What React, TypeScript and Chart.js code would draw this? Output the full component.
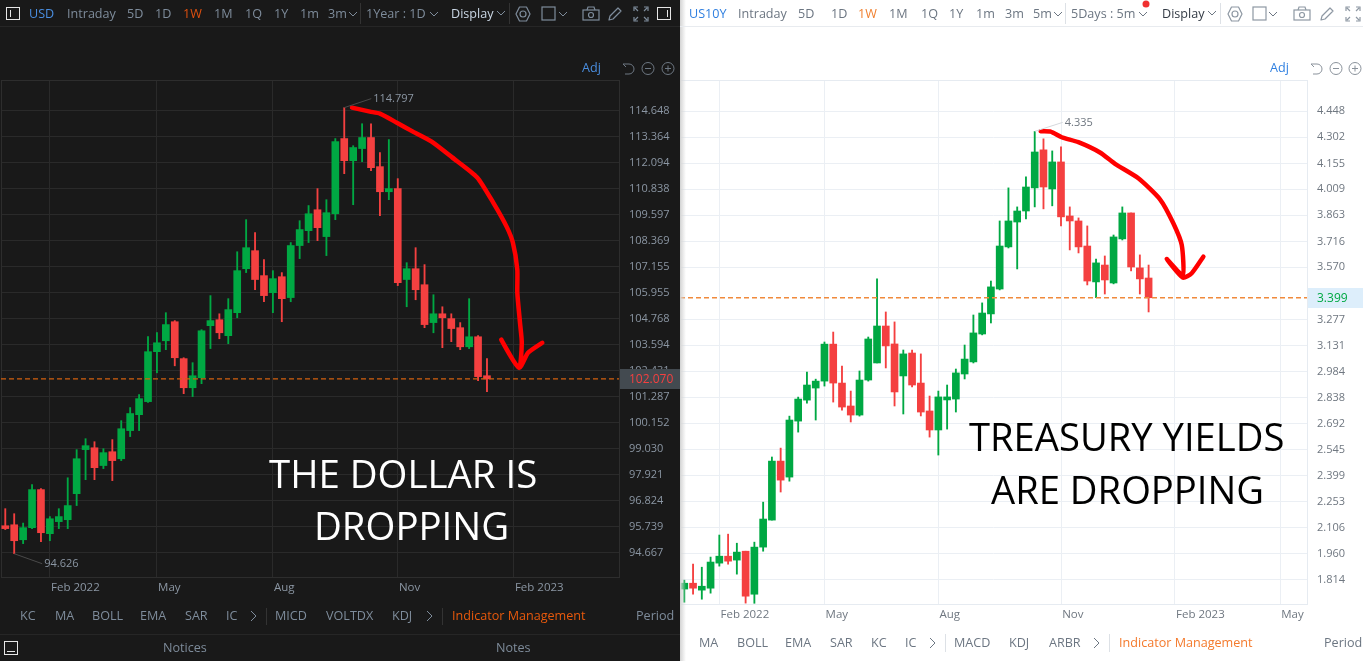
import React, { useEffect, useRef } from "react";
import { Chart, registerables } from "chart.js";

Chart.register(...registerables);

const GREEN = "#00A843";
const RED = "#F44040";
const FONT = '"Open Sans", "Noto Sans", sans-serif';

// ---------- USD (log price axis) ----------
const usdOpens = [95.78,95.82,95.20,95.70,97.29,95.45,95.95,96.03,97.12,98.99,99.07,98.31,98.90,98.60,99.81,100.50,101.07,103.28,103.77,104.63,102.97,101.68,102.12,104.45,104.72,104.00,105.04,107.06,107.90,106.74,105.955,106.69,105.73,108.14,108.84,109.83,108.56,109.64,113.27,112.19,112.78,113.32,111.90,110.69,110.84,106.56,107.06,106.32,104.59,104.99,104.77,104.36,103.50,103.95,102.21];
const usdCloses = [95.66,95.16,95.70,97.29,95.49,96.07,96.16,96.62,98.60,99.16,98.22,98.86,98.52,99.89,100.55,101.20,103.28,103.68,104.50,103.01,101.68,102.21,104.22,104.68,104.13,105.18,106.97,108.04,106.56,105.82,106.60,105.68,108.14,108.89,109.64,108.98,109.69,113.12,112.19,112.83,113.32,111.85,110.69,110.84,106.42,107.06,106.09,104.50,104.99,104.81,104.32,103.50,103.95,102.17,102.07];
const usdHighs = [96.49,96.28,95.89,97.50,97.33,96.16,96.49,97.79,98.99,99.46,99.33,99.03,99.42,100.24,100.81,101.38,103.96,104.14,105.04,104.68,103.01,102.79,104.27,105.82,104.99,105.68,107.85,109.36,108.75,107.48,106.97,106.88,108.28,109.31,110.03,110.84,110.31,113.27,114.797,112.92,114.00,114.00,112.58,113.22,111.32,107.34,108.04,107.25,105.86,105.31,104.99,104.59,105.68,104.00,102.97];
const usdLows = [95.62,94.626,95.04,95.66,95.12,95.16,95.66,95.66,96.62,97.71,97.71,98.18,97.67,98.52,99.55,99.81,101.03,102.34,103.37,102.65,101.42,101.29,101.86,103.42,103.86,103.64,104.81,106.88,106.09,105.54,105.04,104.63,105.54,107.53,108.28,108.37,107.67,109.36,111.56,110.07,112.14,111.71,109.55,110.31,106.28,105.31,105.63,104.36,104.13,103.46,103.73,103.37,103.42,101.99,101.51];
const usdTicks = [114.648,113.364,112.094,110.838,109.597,108.369,107.155,105.955,104.768,103.594,102.431,101.287,100.152,99.03,97.921,96.824,95.739,94.667];
const usdWeeks = [5,17,30,44,57];
const usdMonths = ["Feb 2022","May","Aug","Nov","Feb 2023"];
const usdLast = 102.07;
const usdArrowX = [38.87,40.88,42.0,43.9,45.7,47.8,50.1,52.9,54.7,56.2,56.9,57.4,57.4,57.7,57.9,57.6,55.6,57.6,58.6,60.2];
const usdArrowY = [114.80,114.60,114.50,114.05,113.61,113.12,112.35,111.38,110.17,109.03,108.28,107.02,105.955,104.59,103.68,102.56,103.82,102.56,103.23,103.68];

// ---------- US10Y (linear yield axis) ----------
const tnxOpens = [1.760,1.793,1.754,1.765,1.906,1.945,1.923,1.973,1.731,1.996,2.148,2.480,2.390,2.705,2.823,2.891,2.930,3.138,2.919,2.790,2.739,2.936,3.032,3.240,3.139,2.959,3.088,2.919,2.762,2.655,2.824,2.829,2.970,3.038,3.195,3.308,3.448,3.685,3.825,3.887,4.017,4.231,4.011,4.163,3.859,3.831,3.690,3.488,3.583,3.482,3.730,3.876,3.567,3.510];
const tnxCloses = [1.793,1.765,1.776,1.912,1.945,1.917,1.968,1.720,1.996,2.154,2.480,2.373,2.711,2.829,2.908,2.930,3.138,2.919,2.784,2.739,2.936,3.167,3.240,3.128,2.869,3.083,2.908,2.756,2.655,2.841,2.841,2.976,3.054,3.201,3.313,3.460,3.690,3.831,3.887,4.022,4.219,4.022,4.163,3.854,3.831,3.685,3.493,3.595,3.499,3.741,3.876,3.572,3.505,3.399];
const tnxHighs = [1.810,1.900,1.883,1.940,2.064,2.069,2.018,1.973,2.024,2.249,2.503,2.553,2.733,2.840,2.981,2.941,3.150,3.206,3.015,2.874,2.987,3.178,3.505,3.319,3.263,3.105,3.105,3.083,2.846,2.874,2.908,2.998,3.133,3.302,3.370,3.493,3.831,4.017,3.910,4.079,4.335,4.293,4.225,4.248,3.910,3.848,3.803,3.617,3.634,3.752,3.910,3.876,3.640,3.583];
const tnxLows = [1.686,1.731,1.703,1.737,1.889,1.900,1.844,1.681,1.680,1.973,2.148,2.306,2.367,2.643,2.806,2.711,2.902,2.812,2.767,2.700,2.733,2.930,3.032,3.004,2.790,2.745,2.897,2.734,2.615,2.514,2.660,2.756,2.942,3.032,3.190,3.257,3.443,3.679,3.561,3.842,3.910,3.899,3.916,3.803,3.668,3.651,3.471,3.400,3.420,3.477,3.724,3.550,3.420,3.319];
const tnxTicks = [4.448,4.302,4.155,4.009,3.863,3.716,3.570,3.277,3.131,2.984,2.838,2.692,2.545,2.399,2.253,2.106,1.960,1.814];
const tnxWeeks = [4,16,29,43,56,68];
const tnxMonths = ["Feb 2022","May","Aug","Nov","Feb 2023","May"];
const tnxLast = 3.399;
const tnxArrowX = [40.68,41.82,43.08,44.98,47.45,49.17,51.83,54.3,55.82,56.78,56.9,55.07,56.9,57.92,59.25];
const tnxArrowY = [4.336,4.334,4.302,4.274,4.216,4.152,4.071,3.953,3.818,3.696,3.527,3.617,3.512,3.537,3.630];

type Spec = {
  scaleType: string; opens: number[]; closes: number[]; highs: number[]; lows: number[];
  ticks: number[]; weeks: number[]; months: string[]; last: number; arrowX: number[]; arrowY: number[];
  xMin: number; xMax: number; yMin: number; yMax: number; padLeft: number; axisW: number; axisH: number;
  grid: string; frame: string; tickColor: string; lineColor: string; tagBg: string; tagColor: string; tagW: number;
  calloutColor: string; callouts: { x: number; y: number; text: string; dx: number; dy: number }[];
  barW: number;
};

function makeChart(canvas: HTMLCanvasElement, s: Spec) {
  const pricePlugin = {
    id: "priceTag",
    beforeDatasetsDraw(chart: any) {
      const { ctx, chartArea: a } = chart;
      ctx.save();
      ctx.strokeStyle = s.frame;
      ctx.lineWidth = 1;
      ctx.strokeRect(Math.round(a.left) + 0.5, Math.round(a.top) + 0.5, Math.round(a.right - a.left), Math.round(a.bottom - a.top));
      ctx.restore();
    },
    afterDraw(chart: any) {
      const { ctx, chartArea: a, scales } = chart;
      const py = scales.y.getPixelForValue(s.last);
      ctx.save();
      ctx.fillStyle = s.tagBg;
      ctx.fillRect(a.right + 1, Math.round(py) - 10, s.tagW, 20);
      ctx.fillStyle = s.tagColor;
      ctx.font = `12px ${FONT}`;
      ctx.textAlign = "left";
      ctx.textBaseline = "middle";
      ctx.fillText(s.last.toFixed(3), a.right + 10, py + 0.5);
      ctx.font = `11px ${FONT}`;
      for (const c of s.callouts) {
        const px = scales.x.getPixelForValue(c.x);
        const vy = scales.y.getPixelForValue(c.y);
        ctx.strokeStyle = s.calloutColor;
        ctx.lineWidth = 1;
        ctx.beginPath();
        ctx.moveTo(px, vy);
        ctx.lineTo(px + c.dx - 2, vy + c.dy);
        ctx.stroke();
        ctx.fillStyle = s.tickColor;
        ctx.fillText(c.text, px + c.dx, vy + c.dy);
      }
      ctx.restore();
    },
  };
  const colors = s.opens.map((o, i) => (s.closes[i] >= o ? GREEN : RED));
  return new Chart(canvas, {
    type: "bar",
    plugins: [pricePlugin],
    data: {
      datasets: [
        { type: "bar", order: 4, grouped: false, barThickness: 1.2, backgroundColor: colors,
          data: s.highs.map((h, i) => ({ x: i, y: [s.lows[i], h] })) },
        { type: "bar", order: 3, grouped: false, barThickness: s.barW, backgroundColor: colors,
          data: s.opens.map((o, i) => ({ x: i, y: [o, s.closes[i]] })) },
        { type: "line", order: 2, borderColor: s.lineColor, borderWidth: 1.4, borderDash: [5, 3], pointRadius: 0,
          data: [{ x: s.xMin, y: s.last }, { x: s.xMax, y: s.last }] },
        { type: "line", order: 1, borderColor: "#FF0000", borderWidth: 4.5, pointRadius: 0, tension: 0.2,
          borderCapStyle: "round", borderJoinStyle: "round",
          data: s.arrowX.map((x, i) => ({ x, y: s.arrowY[i] })) },
      ] as any,
    },
    options: {
      responsive: false,
      animation: false,
      layout: { padding: { left: s.padLeft, top: 80, right: 0, bottom: 0 } },
      plugins: { legend: { display: false }, tooltip: { enabled: false } },
      scales: {
        x: {
          type: "linear", min: s.xMin, max: s.xMax, offset: false,
          grid: { color: s.grid, drawTicks: false, offset: false },
          border: { display: false },
          afterBuildTicks: (ax: any) => { ax.ticks = s.weeks.map((v) => ({ value: v })); },
          afterFit: (ax: any) => { ax.height = s.axisH; },
          ticks: {
            align: "start", autoSkip: false, maxRotation: 0, padding: 4, color: s.tickColor,
            font: { family: FONT, size: 11.5 },
            callback: (v: any) => { const k = s.weeks.indexOf(v); return k >= 0 ? "\u200a" + s.months[k] : ""; },
          },
        },
        y: {
          type: s.scaleType, position: "right", min: s.yMin, max: s.yMax, beginAtZero: false,
          grid: { color: s.grid, drawTicks: false },
          border: { display: false },
          afterBuildTicks: (ax: any) => { ax.ticks = s.ticks.map((v) => ({ value: v })); },
          afterFit: (ax: any) => { ax.width = s.axisW; },
          ticks: {
            autoSkip: false, padding: 10, color: s.tickColor,
            font: { family: FONT, size: 11 },
            callback: (v: any) => Number(v).toFixed(3),
          },
        },
      },
    } as any,
  });
}

const usdSpec: Spec = {
  scaleType: "logarithmic", opens: usdOpens, closes: usdCloses, highs: usdHighs, lows: usdLows,
  ticks: usdTicks, weeks: usdWeeks, months: usdMonths, last: usdLast, arrowX: usdArrowX, arrowY: usdArrowY,
  xMin: -0.48, xMax: 68.8, yMin: 93.676, yMax: 116.18, padLeft: 1, axisW: 61, axisH: 84,
  grid: "#2a2a2a", frame: "#2d2d2d", tickColor: "#8b96a3", lineColor: "#D2600F", tagBg: "#434A50", tagColor: "#F44040", tagW: 60,
  calloutColor: "#4a4a4a", barW: 7,
  callouts: [
    { x: 38, y: 114.797, text: "114.797", dx: 29, dy: -9 },
    { x: 1, y: 94.626, text: "94.626", dx: 30, dy: 10 },
  ],
};
const tnxSpec: Spec = {
  scaleType: "linear", opens: tnxOpens, closes: tnxCloses, highs: tnxHighs, lows: tnxLows,
  ticks: tnxTicks, weeks: tnxWeeks, months: tnxMonths, last: tnxLast, arrowX: tnxArrowX, arrowY: tnxArrowY,
  xMin: -0.49, xMax: 71.08, yMin: 1.676, yMax: 4.624, padLeft: 0, axisW: 56, axisH: 57,
  grid: "#EBEFF4", frame: "#E6EBF1", tickColor: "#6F7780", lineColor: "#F08A3C", tagBg: "#DDEEFB", tagColor: "#00A843", tagW: 56,
  calloutColor: "#d5d8dc", barW: 7,
  callouts: [{ x: 40, y: 4.335, text: "4.335", dx: 30, dy: -9 }],
};

// ---------- page furniture ----------
type Lbl = [string, number, string?];
const topLeft: Lbl[] = [["USD",29,"#4A8EE0"],["Intraday",67],["5D",127],["1D",155],["1W",183,"#E0500F"],["1M",214],["1Q",245],["1Y",274],["1m",300],["3m",328],["1Year : 1D",366],["Display",451,"#C9D6E4"]];
const bottomLeft: Lbl[] = [["KC",20],["MA",55],["BOLL",92],["EMA",140],["SAR",185],["IC",226],["MICD",275],["VOLTDX",326],["KDJ",392],["Indicator Management",452,"#E8590C"],["Period",636]];
const topRight: Lbl[] = [["US10Y",689,"#2F7FE0"],["Intraday",738],["5D",798],["1D",831],["1W",858,"#F08030"],["1M",889],["1Q",921],["1Y",949],["1m",976],["3m",1005],["5m",1033],["5Days : 5m",1071],["Display",1162,"#333B45"]];
const bottomRight: Lbl[] = [["MA",699],["BOLL",737],["EMA",785],["SAR",830],["KC",871],["IC",905],["MACD",954],["KDJ",1009],["ARBR",1049],["Indicator Management",1119,"#F47A2C"],["Period",1324]];

const T = ({ x, y, text, color, size = 12.6, weight = 400 }: any) => (
  <span style={{ position: "absolute", left: x, top: y, transform: "translateY(-50%)", color, fontFamily: FONT, fontSize: size, fontWeight: weight, whiteSpace: "nowrap", lineHeight: 1 }}>{text}</span>
);

const Chev = ({ x, y, c, dir = "down" }: any) =>
  dir === "down"
    ? <polyline points={`${x - 4},${y - 2} ${x},${y + 2} ${x + 4},${y - 2}`} fill="none" stroke={c} />
    : <polyline points={`${x - 2},${y - 5} ${x + 3},${y} ${x - 2},${y + 5}`} fill="none" stroke={c} />;

const Tools = ({ gear, box, cam, pen, full, c }: any) => (
  <g fill="none" stroke={c} strokeWidth={1.2}>
    <circle cx={gear} cy={14} r={3} />
    <polygon points={`${gear - 7},14 ${gear - 3.5},7 ${gear + 3.5},7 ${gear + 7},14 ${gear + 3.5},21 ${gear - 3.5},21`} strokeLinejoin="round" />
    <rect x={box} y={7} width={13} height={13} />
    <rect x={cam - 8} y={10} width={16} height={10} />
    <path d={`M${cam - 4} 10 l1 -3 h6 l1 3`} />
    <circle cx={cam} cy={15} r={2.5} />
    <path d={`M${pen - 6} 20 l1 -4 l8 -8 l3 3 l-8 8 z`} strokeLinejoin="round" />
    {full !== undefined && <path d={`M${full - 7} 11 v-4 h4 M${full + 3} 7 h4 v4 M${full + 7} 17 v4 h-4 M${full - 3} 21 h-4 v-4 M${full - 6} 8 l3 3 M${full + 6} 8 l-3 3 M${full + 6} 20 l-3 -3 M${full - 6} 20 l3 -3`} />}
  </g>
);

const Zoomers = ({ a, b, d, c }: any) => (
  <g fill="none" stroke={c} strokeWidth={1}>
    <path d={`M${a - 6} 64 h6 a5 5 0 0 1 0 10 h-4 M${a - 6} 64 l3 3`} />
    <circle cx={b} cy={68.5} r={6} />
    <path d={`M${b - 3} 68.5 h6`} />
    <circle cx={d} cy={68.5} r={6} />
    <path d={`M${d - 3} 68.5 h6 M${d} 65.5 v6`} />
  </g>
);

export default function App() {
  const left = useRef<HTMLCanvasElement>(null);
  const right = useRef<HTMLCanvasElement>(null);
  useEffect(() => {
    const a = makeChart(left.current!, usdSpec);
    const b = makeChart(right.current!, tnxSpec);
    return () => { a.destroy(); b.destroy(); };
  }, []);
  const dark = "#7E8C9B";
  const light = "#6C7682";
  return (
    <div style={{ position: "fixed", left: 0, top: 0, width: 1363, height: 661, overflow: "hidden", background: "#fff" }}>
      <div style={{ position: "absolute", left: 0, top: 0, width: 680, height: 661, background: "#191919" }} />
      <canvas ref={left} width={680} height={661} style={{ position: "absolute", left: 0, top: 0 }} />
      <canvas ref={right} width={683} height={661} style={{ position: "absolute", left: 680, top: 0 }} />
      <div style={{ position: "absolute", left: 680, top: 0, width: 6, height: 661, background: "linear-gradient(to right,#d4d4d4,rgba(255,255,255,0))" }} />

      <svg width={1363} height={661} style={{ position: "absolute", left: 0, top: 0, pointerEvents: "none" }}>
        {/* dark panel */}
        <line x1={0} x2={680} y1={26.5} y2={26.5} stroke="#262626" />
        <line x1={0} x2={680} y1={634.5} y2={634.5} stroke="#262626" />
        <rect x={6.5} y={7.5} width={13} height={12} fill="none" stroke="#E6E6E6" />
        <line x1={10.5} x2={10.5} y1={10} y2={17} stroke="#E6E6E6" />
        <Chev x={353} y={14} c={dark} /><Chev x={434} y={14} c={dark} /><Chev x={501} y={13} c={dark} /><Chev x={563} y={14} c={dark} />
        <line x1={360.5} x2={360.5} y1={3} y2={24} stroke="#333" />
        <line x1={509.5} x2={509.5} y1={3} y2={24} stroke="#333" />
        <Tools gear={523} box={542} cam={591} pen={615} full={641} c={dark} />
        <rect x={657.5} y={7.5} width={13} height={12} fill="none" stroke="#E6E6E6" />
        <line x1={667.5} x2={667.5} y1={10} y2={17} stroke="#E6E6E6" />
        <Zoomers a={629} b={648} d={668} c="#6E7883" />
        <Chev x={253} y={616} c={dark} dir="right" /><Chev x={429} y={616} c={dark} dir="right" />
        <line x1={266.5} x2={266.5} y1={608} y2={625} stroke="#333" />
        <line x1={442.5} x2={442.5} y1={608} y2={625} stroke="#333" />
        <rect x={4.5} y={641.5} width={13} height={13} fill="none" stroke="#E6E6E6" />
        <line x1={7} x2={15} y1={651.5} y2={651.5} stroke="#E6E6E6" />
        {/* light panel */}
        <line x1={680} x2={1363} y1={26.5} y2={26.5} stroke="#E8EBEF" />
        <Chev x={1058} y={14} c={light} /><Chev x={1143} y={14} c={light} /><Chev x={1212} y={13} c={light} /><Chev x={1273} y={14} c={light} />
        <line x1={1065.5} x2={1065.5} y1={3} y2={24} stroke="#DDE1E6" />
        <line x1={1220.5} x2={1220.5} y1={3} y2={24} stroke="#DDE1E6" />
        <circle cx={1146} cy={4} r={3.5} fill="#F03030" />
        <Tools gear={1235} box={1253} cam={1302} pen={1327} full={1353} c="#8E98A3" />
        <Zoomers a={1317} b={1336} d={1355} c="#8A929B" />
        <Chev x={932} y={643} c={light} dir="right" /><Chev x={1096} y={643} c={light} dir="right" />
        <line x1={945.5} x2={945.5} y1={634} y2={652} stroke="#DDE1E6" />
        <line x1={1109.5} x2={1109.5} y1={634} y2={652} stroke="#DDE1E6" />
      </svg>

      {topLeft.map(([t, x, c]) => <T key={"a" + t} x={x} y={14} text={t} color={c || dark} />)}
      {bottomLeft.map(([t, x, c]) => <T key={"b" + t} x={x} y={616} text={t} color={c || dark} />)}
      {topRight.map(([t, x, c]) => <T key={"c" + t} x={x} y={14} text={t} color={c || light} />)}
      {bottomRight.map(([t, x, c]) => <T key={"d" + t} x={x} y={643} text={t} color={c || light} />)}
      <T x={582} y={68} text="Adj" color="#4A8EE0" />
      <T x={1270} y={68} text="Adj" color="#2F7FE0" />
      <T x={163} y={648} text="Notices" color={dark} />
      <T x={496} y={648} text="Notes" color={dark} />

      <T x={269} y={473} text="THE DOLLAR IS" color="#FFFFFF" size={38.4} />
      <T x={314} y={525} text="DROPPING" color="#FFFFFF" size={38.4} />
      <T x={969} y={436} text="TREASURY YIELDS" color="#000000" size={38.2} />
      <T x={991} y={489} text="ARE DROPPING" color="#000000" size={38.2} />
    </div>
  );
}
